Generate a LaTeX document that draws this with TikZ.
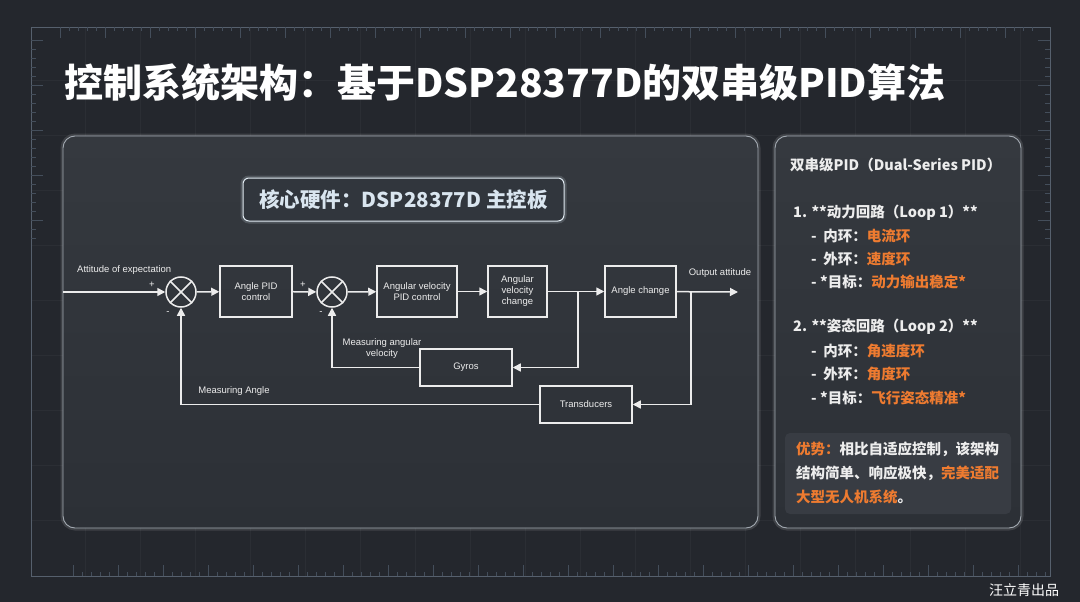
\documentclass[tikz,border=0pt]{standalone}
\usepackage{fontspec}
\setmainfont{Liberation Sans}
\newfontfamily\cjk{Noto Sans CJK SC}
\usetikzlibrary{arrows.meta}
\definecolor{bg}{HTML}{24272D}
\definecolor{frameC}{HTML}{56606D}
\definecolor{tickC}{HTML}{444E5B}
\definecolor{panelTop}{HTML}{35393F}
\definecolor{panelBot}{HTML}{2C3036}
\definecolor{panelEdge}{HTML}{A3AAB2}
\definecolor{lineC}{HTML}{ECECEC}
\definecolor{txtC}{HTML}{EDEDED}
\definecolor{hwTxt}{HTML}{D9E5EF}
\definecolor{hwFill}{HTML}{31363D}
\definecolor{orng}{HTML}{EE7B30}
\definecolor{advFill}{HTML}{383C43}
\tikzset{
  blk/.style={draw=lineC, line width=1.5, minimum height=51, inner sep=1, align=center,
    font=\fontsize{9.5}{11}\selectfont, text=txtC},
  sumnode/.style={circle, draw=lineC, line width=1.5, minimum size=30, inner sep=0},
  arr/.style={draw=lineC, line width=1.5, -{Triangle[length=8,width=8]}},
  wire/.style={draw=lineC, line width=1.5},
  lbl/.style={font=\fontsize{9.5}{11}\selectfont, text=txtC, inner sep=0, align=center},
  rtxt/.style={anchor=west, inner sep=0, text=txtC, font=\cjk\bfseries\fontsize{14.5}{17}\selectfont},
  tick/.style={draw=tickC, line width=0.6},
}
\begin{document}
\begin{tikzpicture}[x=1pt,y=-1pt]
% background
\fill[bg] (0,0) rectangle (1080,602);
\useasboundingbox (0,0) rectangle (1080,602);
% faint grid
\foreach \gx in {85,140,...,1040} {\draw[white,opacity=0.035,line width=0.6] (\gx,27) -- (\gx,576);}
\foreach \gy in {80,135,...,560} {\draw[white,opacity=0.035,line width=0.6] (31,\gy) -- (1050,\gy);}
% outer frame
\draw[frameC, line width=0.8] (31,27) rectangle (1050,576);
% ticks
\foreach \i in {0,...,108} {
  \pgfmathsetmacro\len{mod(\i,5)==0 ? 11 : 4}
  \draw[tick] (60+9*\i,27) -- ++(0,\len);
  \draw[tick] (73+9*\i,576) -- ++(0,-\len);
}
\foreach \i in {0,...,22} {
  \pgfmathsetmacro\len{mod(\i,5)==0 ? 12 : 5}
  \draw[tick] (31,40+9*\i) -- ++(\len,0);
  \draw[tick] (1050,40+9*\i) -- ++(-\len,0);
}
% title
\node[anchor=west, inner sep=0, text=white, font=\cjk\bfseries\fontsize{39}{44}\selectfont] (title) at (64,83)
  {控制系统架构：基于DSP28377D的双串级PID算法};
% left panel
\draw[white, opacity=0.12, line width=5, rounded corners=12] (63,136) rectangle (758,528);
\shade[top color=panelTop, bottom color=panelBot, rounded corners=12] (63,136) rectangle (758,528);
\draw[panelEdge, line width=0.9, rounded corners=12] (63,136) rectangle (758,528);
% right panel
\draw[white, opacity=0.12, line width=5, rounded corners=12] (775,136) rectangle (1021,528);
\shade[top color=panelTop, bottom color=panelBot, rounded corners=12] (775,136) rectangle (1021,528);
\draw[panelEdge, line width=0.9, rounded corners=12] (775,136) rectangle (1021,528);
% hardware label
\draw[hwTxt, opacity=0.18, line width=5, rounded corners=6] (243,178) rectangle (564,221);
\node[draw=hwTxt!80!white, line width=1, fill=hwFill, rounded corners=6, minimum width=321, minimum height=43,
  text=hwTxt, font=\cjk\bfseries\fontsize{20.5}{24}\selectfont] (hw) at (403.5,199.5)
  {核心硬件：DSP28377D 主控板};
% diagram
\coordinate (inL) at (63,292);
\node[sumnode] (s1) at (181,292) {};
\draw[wire] (s1.45) -- (s1.225) (s1.135) -- (s1.-45);
\node[blk, minimum width=72] (b1) at (256,291.5) {Angle PID\\control};
\node[sumnode] (s2) at (332,292) {};
\draw[wire] (s2.45) -- (s2.225) (s2.135) -- (s2.-45);
\node[blk, minimum width=80] (b2) at (417,291.5) {Angular velocity\\PID control};
\node[blk, minimum width=59] (b3) at (517.5,291.5) {Angular\\velocity\\change};
\node[blk, minimum width=71] (b4) at (640.5,291.5) {Angle change};
\coordinate (outR) at (738,292);
\coordinate (br1) at (578,292);
\coordinate (br2) at (691,292);
\node[blk, minimum width=92, minimum height=37] (gyros) at (466,367.5) {Gyros};
\node[blk, minimum width=92, minimum height=37] (trans) at (586,404.5) {Transducers};
\draw[arr] (inL) -- (s1);
\draw[arr] (s1) -- (b1);
\draw[arr] (b1) -- (s2);
\draw[arr] (s2) -- (b2);
\draw[arr] (b2) -- (b3);
\draw[arr] (b3) -- (b4);
\draw[arr] (b4) -- (outR);
\draw[arr] (br1) |- (gyros.east);
\draw[arr] (gyros.west) -| (s2.south);
\draw[arr] (br2) |- (trans.east);
\draw[arr] (trans.west) -| (s1.south);
% diagram labels
\node[lbl, anchor=west] (lin) at (77,270) {Attitude of expectation};
\node[lbl] (p1) at (152,285) {+};
\node[lbl] (m1) at (168,313) {-};
\node[lbl] (p2) at (303,285) {+};
\node[lbl] (m2) at (321,313) {-};
\node[lbl] (lout) at (720,273) {Output attitude};
\node[lbl] (lmav) at (382,349) {Measuring angular\\velocity};
\node[lbl] (lma) at (234,391) {Measuring Angle};
% right panel text
\node[rtxt] (h) at (790,165) {双串级PID（Dual-Series PID）};
\node[rtxt] (l1) at (793,213) {1. **动力回路（Loop 1）**};
\node[rtxt] (l1a) at (811,236) {-\ \ 内环：{\color{orng}电流环}};
\node[rtxt] (l1b) at (811,259) {-\ \ 外环：{\color{orng}速度环}};
\node[rtxt] (l1c) at (811,282) {- *目标：{\color{orng}动力输出稳定*}};
\node[rtxt] (l2) at (793,327) {2. **姿态回路（Loop 2）**};
\node[rtxt] (l2a) at (811,351) {-\ \ 内环：{\color{orng}角速度环}};
\node[rtxt] (l2b) at (811,374) {-\ \ 外环：{\color{orng}角度环}};
\node[rtxt] (l2c) at (811,398) {- *目标：{\color{orng}飞行姿态精准*}};
% advantage box
\fill[advFill, rounded corners=5] (785,433) rectangle (1011,514);
\node[rtxt] (a1) at (796,449) {{\color{orng}优势：}相比自适应控制，该架构};
\node[rtxt] (a2) at (796,473) {结构简单、响应极快，{\color{orng}完美适配}};
\node[rtxt] (a3) at (796,497) {{\color{orng}大型无人机系统}。};
% signature
\node[anchor=west, inner sep=0, text=white, font=\cjk\fontsize{14}{16}\selectfont] (sig) at (989,590) {汪立青出品};
\end{tikzpicture}
\end{document}
